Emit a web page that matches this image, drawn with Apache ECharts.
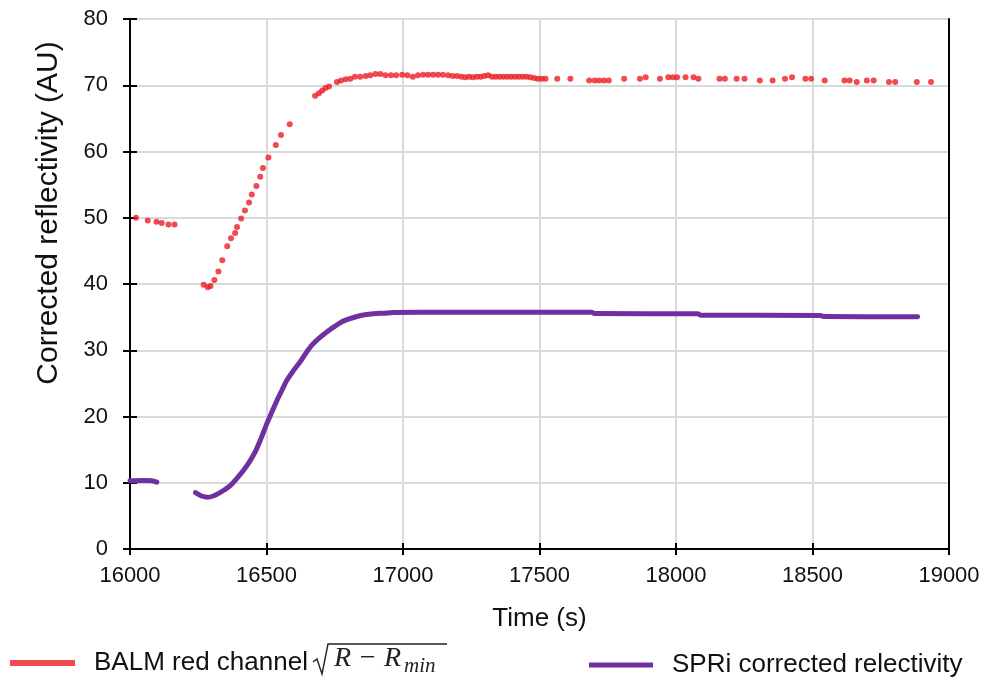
<!DOCTYPE html>
<html>
<head>
<meta charset="utf-8">
<script src="https://cdn.jsdelivr.net/npm/echarts@6/dist/echarts.min.js"></script>
<style>
html,body{margin:0;padding:0;background:#fff;}
#chart{width:988px;height:680px;}
</style>
</head>
<body>
<div id="chart"></div>
<script>
// ---- Data ----
const redName = 'BALM red channel';
const purpleName = 'SPRi corrected relectivity';

const redTime = [
  16022,16065,16097,16116,16141,16163,
  16270,16285,16295,16309,16324,16338,16356,16370,16385,16392,16407,16421,16436,16446,16463,16477,16487,16507,16534,16553,16585,
  16678,16692,16704,16716,16729,16758,16773,16790,16807,16824,16843,16863,16880,16899,16917,16936,16956,16975,16997,17016,17036,17055,
  17074,17092,17110,17128,17146,17165,17182,17198,17214,17228,17242,17256,17270,17284,17298,17312,17326,17340,17354,17368,17382,17396,17410,17424,17438,17452,17466,17480,17494,17508,17522,
  17565,17613,17682,17702,17719,17737,17754,17810,17868,17889,17941,17972,17989,18004,18035,18064,18082,18159,18179,18222,18251,
  18307,18354,18399,18425,18474,18495,18545,18617,18636,18662,18699,18724,18780,18803,18882,18934
];
const redValue = [
  50.0,49.6,49.4,49.2,49.0,49.0,
  39.9,39.5,39.7,40.6,41.9,43.6,45.7,46.9,47.7,48.6,49.9,51.1,52.3,53.5,54.8,56.2,57.5,59.1,61.0,62.5,64.1,
  68.4,68.8,69.2,69.6,69.8,70.5,70.7,70.9,71.0,71.3,71.3,71.4,71.5,71.7,71.7,71.5,71.5,71.5,71.6,71.5,71.3,71.5,
  71.6,71.6,71.6,71.6,71.6,71.5,71.4,71.4,71.3,71.2,71.3,71.2,71.3,71.3,71.4,71.5,71.3,71.3,71.3,71.3,71.3,71.3,71.3,71.3,71.3,71.3,71.2,71.1,71.0,71.0,71.0,
  71.0,71.0,70.7,70.7,70.7,70.7,70.7,71.0,71.0,71.2,71.0,71.2,71.2,71.2,71.2,71.2,71.0,71.0,71.0,71.0,71.0,
  70.7,70.7,71.0,71.2,71.0,71.0,70.7,70.7,70.7,70.5,70.7,70.7,70.5,70.5,70.5,70.5
];

// '-' marks the gap between the two recorded segments
const purpleTime = [
  16000,16050,16080,16098,
  16170,
  16240,16262,16285,16305,16325,16345,16368,16390,16416,16438,16459,16480,16502,16520,16539,16557,16575,16600,16624,16645,16667,16695,16722,16750,16776,16800,16831,16860,16892,16930,16965,17063,17300,
  17690,17700,18080,18090,18530,18540,18885
];
const purpleValue = [
  10.3,10.35,10.3,10.1,
  '-',
  8.5,8.0,7.8,8.0,8.4,8.9,9.6,10.6,11.9,13.2,14.7,16.7,19.0,20.7,22.5,24.0,25.5,27.0,28.3,29.6,30.8,31.9,32.8,33.6,34.3,34.7,35.1,35.35,35.5,35.6,35.7,35.75,35.75,
  35.75,35.55,35.5,35.3,35.25,35.1,35.05
];

const xTicks = [16000,16500,17000,17500,18000,18500,19000];
const yTicks = [0,10,20,30,40,50,60,70,80];

// ---- Build ----
const redData = redTime.map((t,i)=>[t, redValue[i]]);
const purpleData = purpleTime.map((t,i)=>[t, purpleValue[i]]);

const xMin = xTicks[0], xMax = xTicks[xTicks.length-1], xStep = xTicks[1]-xTicks[0];
const yMin = yTicks[0], yMax = yTicks[yTicks.length-1], yStep = yTicks[1]-yTicks[0];

const RED = '#ee1d24';
const PURPLE = '#7030a0';
const TXT = '#111';
const FONT = "'Liberation Sans', Arial, sans-serif";
const MATH = "'Liberation Serif', 'Times New Roman', serif";

const chart = echarts.init(document.getElementById('chart'), null, {renderer:'canvas'});
chart.setOption({
  backgroundColor:'#fff',
  animation:false,
  grid:{left:130,right:39,top:19,bottom:131,containLabel:false},
  xAxis:[{
    type:'value',min:xMin,max:xMax,interval:xStep,
    name:'Time (s)',nameLocation:'middle',nameGap:57,
    nameTextStyle:{fontSize:26,color:TXT,fontFamily:FONT},
    axisLine:{show:true,onZero:false,lineStyle:{color:'#000',width:2}},
    axisTick:{show:true,length:6,lineStyle:{color:'#000',width:2}},
    axisLabel:{fontSize:22,color:TXT,fontFamily:FONT,margin:16,formatter:v=>String(v)},
    splitLine:{show:true,lineStyle:{color:'#d9d9d9',width:2}}
  },{
    type:'value',min:xMin,max:xMax,interval:xStep,position:'bottom',
    axisLine:{show:false},
    axisTick:{show:true,inside:true,length:6,lineStyle:{color:'#000',width:2}},
    axisLabel:{show:false},splitLine:{show:false}
  }],
  yAxis:[{
    type:'value',min:yMin,max:yMax,interval:yStep,
    name:'Corrected reflectivity (AU)',nameLocation:'middle',nameGap:66,
    nameTextStyle:{fontSize:30,color:TXT,fontFamily:FONT,padding:[0,0,0,142]},
    axisLine:{show:true,onZero:false,lineStyle:{color:'#000',width:2}},
    axisTick:{show:true,length:7,lineStyle:{color:'#000',width:2}},
    axisLabel:{fontSize:22,color:TXT,fontFamily:FONT,margin:22,formatter:v=>String(v)},
    splitLine:{show:true,lineStyle:{color:'#d9d9d9',width:2}}
  },{
    type:'value',min:yMin,max:yMax,interval:yStep,position:'left',
    axisLine:{show:false},
    axisTick:{show:true,inside:true,length:7,lineStyle:{color:'#000',width:2}},
    axisLabel:{show:false},splitLine:{show:false}
  },{
    type:'value',min:yMin,max:yMax,interval:yStep,position:'right',
    axisLine:{show:true,lineStyle:{color:'#000',width:2}},
    axisTick:{show:false},axisLabel:{show:false},splitLine:{show:false}
  }],
  legend:[{
    data:[redName],left:5,top:645,icon:'rect',itemWidth:65,itemHeight:6,
    formatter:n=>'{t|'+n+'}',
    textStyle:{rich:{t:{fontSize:26,color:TXT,fontFamily:FONT,padding:[0,0,0,14]}}}
  },{
    data:[purpleName],left:584,top:647,icon:'rect',itemWidth:64,itemHeight:5,
    formatter:n=>'{t|'+n+'}',
    textStyle:{rich:{t:{fontSize:26,color:TXT,fontFamily:FONT,padding:[0,0,0,14]}}}
  }],
  graphic:[
    {type:'polyline',silent:true,shape:{points:[[313,662],[317,659],[322,674],[328,644],[447,644]]},
     style:{stroke:'#222',lineWidth:1.4,fill:null}},
    {type:'text',silent:true,left:334,top:645,
     style:{text:'R \u2212 R',font:"italic 28px "+MATH,fill:'#222'}},
    {type:'text',silent:true,left:404,top:656,
     style:{text:'min',font:"italic 21px "+MATH,fill:'#222'}}
  ],
  series:[{
    name:redName,type:'scatter',data:redData,symbol:'circle',symbolSize:6,
    itemStyle:{color:RED},z:3
  },{
    name:purpleName,type:'line',data:purpleData,showSymbol:false,symbol:'none',smooth:0.3,
    connectNulls:false,
    lineStyle:{color:PURPLE,width:5,cap:'round',join:'round'},itemStyle:{color:PURPLE},z:2
  }]
});
</script>
</body>
</html>
